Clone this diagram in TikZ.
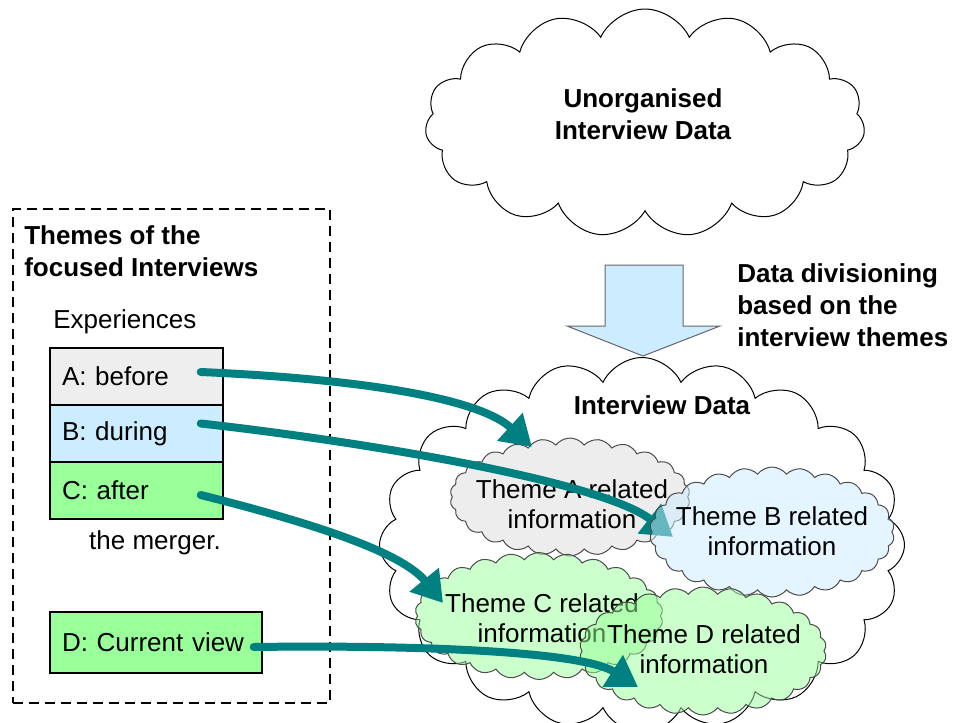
\documentclass[tikz,border=0pt]{standalone}
\usepackage{fontspec}
\setmainfont{Liberation Sans}
\usetikzlibrary{shapes.symbols,arrows.meta,calc}
\definecolor{linkteal}{HTML}{008080}
\definecolor{cellgray}{HTML}{EEEEEE}
\definecolor{cellblue}{HTML}{CCECFF}
\definecolor{cellgreen}{HTML}{99FF99}
\definecolor{themegray}{HTML}{DDDDDD}
\begin{document}
\begin{tikzpicture}[x=0.75pt,y=-0.75pt,
  every node/.style={font=\fontsize{19.5pt}{24pt}\selectfont, inner sep=0pt},
  heading/.style={font=\fontsize{19.5pt}{24pt}\selectfont\bfseries, align=left},
  bigcloud/.style={cloud, cloud ignores aspect, draw=black, line width=0.75pt,
    fill=white, cloud puff arc=130},
  themecloud/.style={cloud, cloud ignores aspect, cloud puffs=26, cloud puff arc=105,
    draw=black!70, line width=0.75pt, fill opacity=0.5},
  themetext/.style={align=center, font=\fontsize{19.5pt}{22.5pt}\selectfont},
  cell/.style={draw=black, line width=1.1pt, minimum width=129.75pt,
    minimum height=42.75pt, text width=111.75pt, align=left},
  framebox/.style={draw=black, line width=1.1pt, dash pattern=on 7.5pt off 4.5pt,
    minimum width=237.75pt, minimum height=370.5pt},
  blockarrow/.style={fill=cellblue, draw=black!60, line width=0.75pt},
  link/.style={draw=linkteal, line width=6pt, line cap=round,
    -{Triangle[length=22.5pt,width=27pt]}}
]
\useasboundingbox (0,0) rectangle (957,722);
\clip (0,0) rectangle (957,722);

% left panel: interview themes
\node[framebox] (frame) at (171.5,456) {};
\node[heading, anchor=west] (themes) at (24,251) {Themes of the\\focused Interviews};
\node[anchor=west] (exp) at (53,322) {Experiences};
\node[cell, fill=cellgray]  (boxa) at (136.5,376.5) {A: before};
\node[cell, fill=cellblue]  (boxb) at (136.5,433.5) {B: during};
\node[cell, fill=cellgreen] (boxc) at (136.5,490.5) {C: after};
\node (merger) at (155,543) {the merger.};
\node[cell, fill=cellgreen, minimum width=159pt, minimum height=45.75pt, text width=141pt]
  (boxd) at (156,642.5) {D: Current view};

% raw data and division step
\node[bigcloud, cloud puffs=15, minimum width=330pt, minimum height=171pt] (rawcloud) at (645,123) {};
\node[heading, align=center] (rawtext) at (643,114) {Unorganised\\Interview Data};
\draw[blockarrow] (605,265) -- (683,265) -- (683,326) -- (720,326) -- (643,356)
  -- (567,326) -- (605,326) -- cycle;
\node[heading, anchor=west] (divtext) at (737,305) {Data divisioning\\based on the\\interview themes};

% organised data cloud
\node[bigcloud, cloud puffs=20, minimum width=393.75pt, minimum height=281.25pt] (datacloud) at (642,545) {};
\node[heading] (datatext) at (662,405) {Interview Data};

% arrow end points inside the theme clouds
\coordinate (tipa) at (532,447);
\coordinate (tipb) at (673,537);
\coordinate (tipc) at (443,603);
\coordinate (tipd) at (638,687);

\node[themecloud, fill=themegray, minimum width=180pt, minimum height=88.5pt] (clouda) at (570,497) {};
\node[themetext] (texta) at (572,504) {Theme A related\\information};

\draw[link] ($(boxa.east)+(-23,-4.5)$) .. controls (340,378) and (475,395) .. (tipa);
\draw[link] ($(boxb.east)+(-23,-10)$) .. controls (350,440) and (600,480) .. (tipb);

\node[themecloud, fill=cellblue, minimum width=183.75pt, minimum height=97.5pt] (cloudb) at (772,532) {};
\node[themetext] (textb) at (772,531) {Theme B related\\information};

\node[themecloud, fill=cellgreen, minimum width=186pt, minimum height=95.25pt] (cloudc) at (539,616) {};
\node[themetext] (textc) at (542,618) {Theme C related\\information};

\draw[link] ($(boxc.east)+(-23,4.5)$) .. controls (300,520) and (400,550) .. (tipc);

\node[themecloud, fill=cellgreen, minimum width=185.25pt, minimum height=96pt] (cloudd) at (703,651) {};
\node[themetext] (textd) at (704,649) {Theme D related\\information};

\draw[link] ($(boxd.east)+(-9,4.5)$) .. controls (400,645) and (580,650) .. (tipd);
\end{tikzpicture}
\end{document}
